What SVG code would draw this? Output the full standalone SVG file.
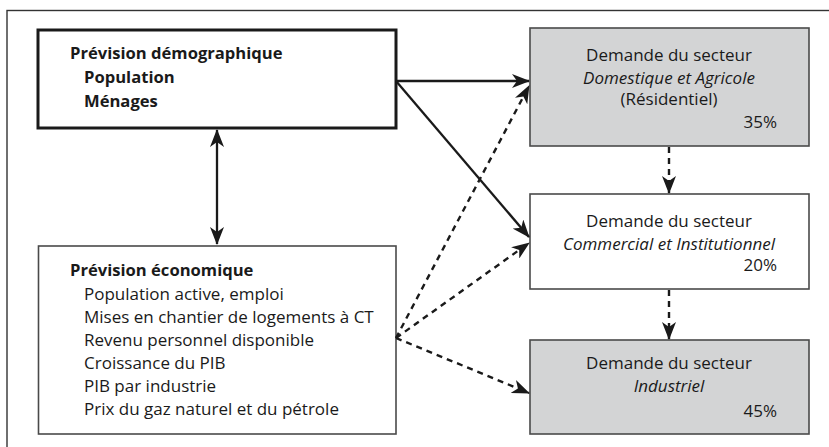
<svg xmlns="http://www.w3.org/2000/svg" width="829" height="447" viewBox="0 0 829 447">
<style>
text{font-family:"Open Sans","Noto Sans","Liberation Sans",sans-serif;font-size:17px;fill:#1a1a1a}
.b{font-weight:bold;font-size:16.6px}
.i{font-style:italic}
.c{text-anchor:middle}
.e{text-anchor:end}
.thin{fill:#fff;stroke:#4a4a4a;stroke-width:1.6}
.gray{fill:#d3d4d5;stroke:#4a4a4a;stroke-width:1.6}
.solid{fill:none;stroke:#1a1a1a;stroke-width:2.3}
.dash{fill:none;stroke:#1a1a1a;stroke-width:2.4;stroke-dasharray:6,5}
</style>
<defs>
<marker id="ah" viewBox="0 0 18 14" refX="17" refY="7" markerWidth="18" markerHeight="14" markerUnits="userSpaceOnUse" orient="auto-start-reverse">
<path d="M0,0 L18,7 L0,14 L5,7 Z" fill="#1a1a1a"/>
</marker>
</defs>
<rect x="7" y="10.5" width="840" height="460" fill="#fff" stroke="#333" stroke-width="1.4"/>
<g id="demo">
<rect x="38" y="30" width="358" height="98" fill="#fff" stroke="#1a1a1a" stroke-width="3"/>
<text class="b" x="70" y="59">Prévision démographique</text>
<text class="b" x="84" y="83">Population</text>
<text class="b" x="84" y="107">Ménages</text>
</g>
<g id="eco">
<rect x="38.5" y="246" width="357.5" height="188" class="thin"/>
<text class="b" x="70" y="276">Prévision économique</text>
<text x="84" y="300">Population active, emploi</text>
<text x="84" y="323">Mises en chantier de logements à CT</text>
<text x="84" y="346">Revenu personnel disponible</text>
<text x="84" y="369">Croissance du PIB</text>
<text x="84" y="392">PIB par industrie</text>
<text x="84" y="415">Prix du gaz naturel et du pétrole</text>
</g>
<g id="dom">
<rect x="530" y="28" width="279" height="118" class="gray"/>
<text class="c" x="669" y="61">Demande du secteur</text>
<text class="c i" x="669" y="84">Domestique et Agricole</text>
<text class="c" x="669" y="105">(Résidentiel)</text>
<text class="e" x="777" y="128">35%</text>
</g>
<g id="com">
<rect x="530" y="194" width="279" height="95" class="thin"/>
<text class="c" x="669" y="227">Demande du secteur</text>
<text class="c i" x="669" y="250">Commercial et Institutionnel</text>
<text class="e" x="777" y="271">20%</text>
</g>
<g id="ind">
<rect x="530" y="340" width="279" height="94" class="gray"/>
<text class="c" x="669" y="369">Demande du secteur</text>
<text class="c i" x="669" y="392">Industriel</text>
<text class="e" x="777" y="417">45%</text>
</g>
<g id="connectors">
<line x1="217" y1="130" x2="217" y2="244" class="solid" marker-start="url(#ah)" marker-end="url(#ah)"/>
<line x1="396" y1="81" x2="529" y2="81" class="solid" marker-end="url(#ah)"/>
<line x1="396" y1="81" x2="529" y2="237" class="solid" marker-end="url(#ah)"/>
<line x1="396" y1="338" x2="529" y2="86" class="dash" marker-end="url(#ah)"/>
<line x1="396" y1="338" x2="529" y2="243" class="dash" marker-end="url(#ah)"/>
<line x1="396" y1="338" x2="529" y2="393" class="dash" marker-end="url(#ah)"/>
<line x1="669" y1="147" x2="669" y2="193" class="dash" marker-end="url(#ah)"/>
<line x1="669" y1="290" x2="669" y2="339" class="dash" marker-end="url(#ah)"/>
</g>
</svg>
